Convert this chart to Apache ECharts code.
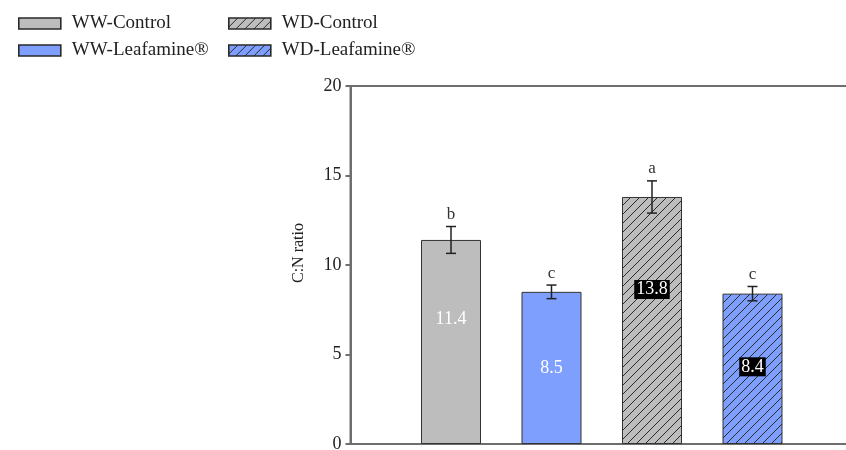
<!DOCTYPE html>
<html>
<head>
<meta charset="utf-8">
<script src="https://cdn.jsdelivr.net/npm/echarts@6/dist/echarts.min.js"></script>
<style>html,body{margin:0;padding:0;background:#fff;}#c{width:846px;height:450px;}</style>
</head>
<body>
<div id="c"></div>
<script>
// ---- data ----
const categories = ['', 'WW-Control', 'WW-Leafamine®', 'WD-Control', 'WD-Leafamine®', ''];
const seriesNames = ['WW-Control', 'WW-Leafamine®', 'WD-Control', 'WD-Leafamine®'];
const means = [11.4, 8.5, 13.8, 8.4];
const errors = [0.75, 0.38, 0.9, 0.4];
const letters = ['b', 'c', 'a', 'c'];
const yTicks = [0, 5, 10, 15, 20];

// ---- styles ----
const FONT = '"Liberation Serif", "DejaVu Serif", serif';
const GREY = '#bdbdbd';
const BLUE = '#7f9fff';
const AXIS = '#6e6e6e';
const fills = [GREY, BLUE, GREY, BLUE];
const hatched = [false, false, true, true];
const labelOffsets = [-23, 0, -31, -2];
const labelBoxed = [false, false, true, true];

function hatch(bg) {
  const s = 9;
  const cv = document.createElement('canvas');
  cv.width = s; cv.height = s;
  const ctx = cv.getContext('2d');
  ctx.fillStyle = bg; ctx.fillRect(0, 0, s, s);
  ctx.strokeStyle = '#2a2a2a'; ctx.lineWidth = 1;
  ctx.beginPath();
  ctx.moveTo(-1, s + 1); ctx.lineTo(s + 1, -1);
  ctx.moveTo(-1, 1); ctx.lineTo(1, -1);
  ctx.moveTo(s - 1, s + 1); ctx.lineTo(s + 1, s - 1);
  ctx.stroke();
  return { image: cv, repeat: 'repeat' };
}

const barSeries = seriesNames.map((name, i) => ({
  name: name,
  type: 'bar',
  barWidth: 60,
  barGap: '-100%',
  data: categories.map((c, j) => (j === i + 1 ? means[i] : '-')),
  itemStyle: {
    color: hatched[i] ? hatch(fills[i]) : fills[i],
    borderColor: '#333',
    borderWidth: 1
  },
  label: {
    show: true,
    position: 'inside',
    offset: [0, labelOffsets[i]],
    color: '#fff',
    fontFamily: FONT,
    fontSize: 18,
    backgroundColor: labelBoxed[i] ? '#000' : 'transparent',
    padding: labelBoxed[i] ? [1, 2, 0, 2] : 0
  },
  emphasis: { disabled: true },
  z: 2
}));

const errSeries = {
  type: 'custom',
  name: 'err',
  data: means.map((m, i) => [i + 1, m, errors[i]]),
  encode: { x: 0, y: 1 },
  z: 5,
  silent: true,
  renderItem: function (params, api) {
    const x = api.value(0), m = api.value(1), e = api.value(2);
    const top = api.coord([x, m + e]);
    const bot = api.coord([x, m - e]);
    const cap = 5;
    const st = { stroke: '#222', lineWidth: 1.5 };
    return {
      type: 'group',
      children: [
        { type: 'line', shape: { x1: top[0], y1: top[1], x2: bot[0], y2: bot[1] }, style: st },
        { type: 'line', shape: { x1: top[0] - cap, y1: top[1], x2: top[0] + cap, y2: top[1] }, style: st },
        { type: 'line', shape: { x1: bot[0] - cap, y1: bot[1], x2: bot[0] + cap, y2: bot[1] }, style: st },
        { type: 'text', x: top[0], y: top[1] - 12,
          style: { text: letters[params.dataIndex], fill: '#333', font: '17px ' + FONT, align: 'center', verticalAlign: 'middle' } }
      ]
    };
  }
};

const legendCommon = {
  orient: 'vertical',
  top: 9,
  itemWidth: 42,
  itemHeight: 11,
  itemGap: 8,
  icon: 'rect',
  selectedMode: false,
  itemStyle: { borderColor: '#2a2a2a', borderWidth: 1.6 },
  textStyle: { fontFamily: FONT, fontSize: 19, color: '#222', padding: [0, 0, 0, 6] }
};

const option = {
  animation: false,
  backgroundColor: '#fff',
  legend: [
    Object.assign({}, legendCommon, { left: 13, data: [seriesNames[0], seriesNames[1]] }),
    Object.assign({}, legendCommon, { left: 223, data: [seriesNames[2], seriesNames[3]] })
  ],
  grid: {
    left: 350.5, top: 86, width: 502.5, height: 358,
    outerBoundsMode: 'none',
    containLabel: false,
    show: true, borderColor: AXIS, borderWidth: 2, backgroundColor: 'transparent'
  },
  xAxis: {
    type: 'category',
    data: categories,
    boundaryGap: false,
    axisLine: { show: true, lineStyle: { color: AXIS, width: 2 } },
    axisTick: { show: false },
    axisLabel: { show: false },
    splitLine: { show: false }
  },
  yAxis: {
    type: 'value',
    min: yTicks[0],
    max: yTicks[yTicks.length - 1],
    interval: yTicks[1] - yTicks[0],
    name: 'C:N ratio',
    nameLocation: 'middle',
    nameGap: 44,
    nameTextStyle: { fontFamily: FONT, fontSize: 16, color: '#222', padding: [0, 0, 0, 24] },
    axisLine: { show: true, lineStyle: { color: AXIS, width: 2 } },
    axisTick: { show: true, length: 5, lineStyle: { color: AXIS, width: 2 } },
    axisLabel: { fontFamily: FONT, fontSize: 18, color: '#222', margin: 9 },
    splitLine: { show: false }
  },
  series: barSeries.concat([errSeries])
};

const chart = echarts.init(document.getElementById('c'), null, { renderer: 'canvas' });
chart.setOption(option);
</script>
</body>
</html>
